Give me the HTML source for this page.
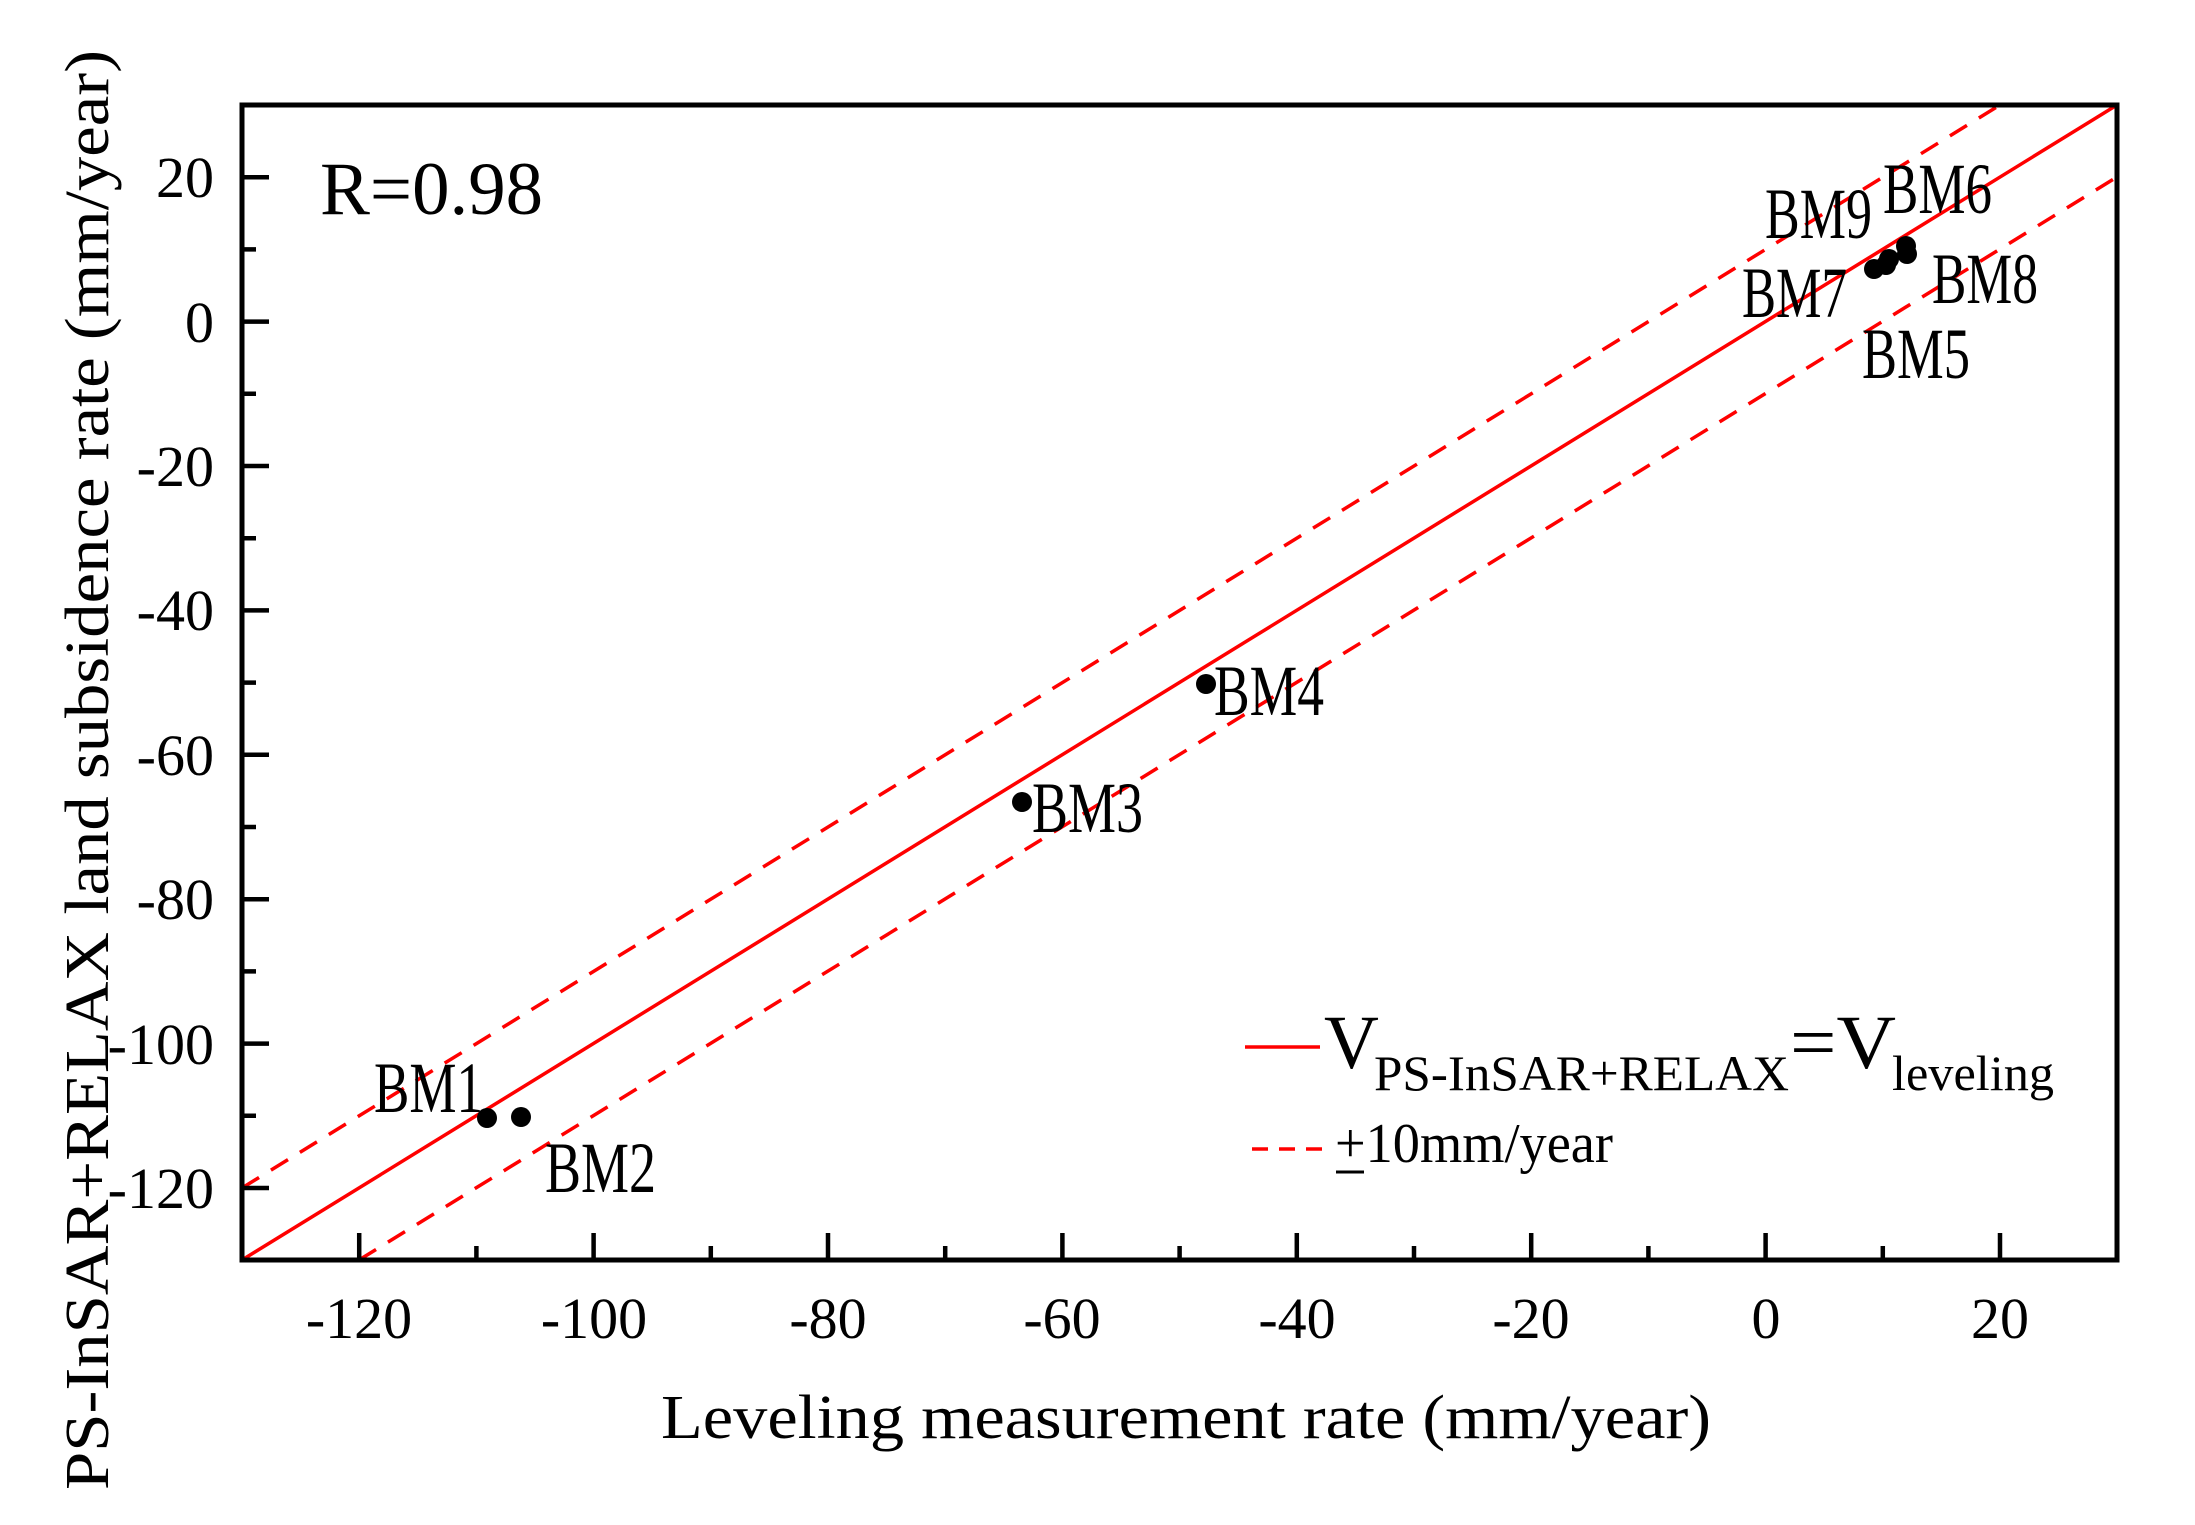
<!DOCTYPE html>
<html><head><meta charset="utf-8"><style>
html,body{margin:0;padding:0;background:#fff;}
svg{display:block;}
text{font-family:"Liberation Serif",serif;fill:#000;}
</style></head><body>
<svg width="2195" height="1525" viewBox="0 0 2195 1525" xmlns="http://www.w3.org/2000/svg">
<rect width="2195" height="1525" fill="#fff"/>
<line x1="242" y1="1260" x2="2117" y2="105" stroke="#f00" stroke-width="3.5"/>
<line x1="242" y1="1188" x2="2000" y2="105" stroke="#f00" stroke-width="3.5" stroke-dasharray="20,14"/>
<line x1="359" y1="1260" x2="2117" y2="177" stroke="#f00" stroke-width="3.5" stroke-dasharray="20,14"/>
<rect x="242" y="105" width="1875" height="1155" fill="none" stroke="#000" stroke-width="5"/>
<g stroke="#000" stroke-width="4.5">
<path d="M359.2 1260v-27M593.6 1260v-27M828 1260v-27M1062.4 1260v-27M1296.8 1260v-27M1531.2 1260v-27M1765.6 1260v-27M2000 1260v-27"/>
<path d="M476.4 1260v-14M710.8 1260v-14M945.2 1260v-14M1179.6 1260v-14M1414 1260v-14M1648.4 1260v-14M1882.8 1260v-14"/>
<path d="M242 177.2h27M242 321.6h27M242 466h27M242 610.4h27M242 754.8h27M242 899.2h27M242 1043.6h27M242 1188h27"/>
<path d="M242 249.4h14M242 393.8h14M242 538.2h14M242 682.6h14M242 827h14M242 971.4h14M242 1115.8h14"/>
</g>
<g font-size="58" text-anchor="middle">
<text x="359" y="1338">-120</text><text x="594" y="1338">-100</text><text x="828" y="1338">-80</text>
<text x="1062" y="1338">-60</text><text x="1297" y="1338">-40</text><text x="1531" y="1338">-20</text>
<text x="1766" y="1338">0</text><text x="2000" y="1338">20</text>
</g>
<g font-size="58" text-anchor="end">
<text x="214" y="197">20</text><text x="214" y="342">0</text><text x="214" y="486">-20</text>
<text x="214" y="630">-40</text><text x="214" y="775">-60</text><text x="214" y="919">-80</text>
<text x="214" y="1064">-100</text><text x="214" y="1208">-120</text>
</g>
<text x="1186" y="1438" font-size="62" text-anchor="middle" textLength="1050" lengthAdjust="spacingAndGlyphs">Leveling measurement rate (mm/year)</text>
<text transform="translate(108,770) rotate(-90)" font-size="62" text-anchor="middle" textLength="1440" lengthAdjust="spacingAndGlyphs">PS-InSAR+RELAX land subsidence rate (mm/year)</text>
<text x="320" y="214" font-size="75" textLength="223" lengthAdjust="spacingAndGlyphs">R=0.98</text>
<g fill="#000">
<circle cx="487" cy="1118" r="10"/><circle cx="521" cy="1117" r="10"/>
<circle cx="1022" cy="802" r="10"/><circle cx="1206" cy="684" r="10"/>
<circle cx="1874" cy="269" r="10"/><circle cx="1886" cy="265" r="10"/>
<circle cx="1889" cy="259" r="10"/><circle cx="1906" cy="246" r="10"/><circle cx="1907" cy="254" r="10"/>
</g>
<g font-size="72">
<text x="374" y="1112" textLength="109" lengthAdjust="spacingAndGlyphs">BM1</text>
<text x="545" y="1192" textLength="111" lengthAdjust="spacingAndGlyphs">BM2</text>
<text x="1032" y="832" textLength="111" lengthAdjust="spacingAndGlyphs">BM3</text>
<text x="1214" y="715" textLength="110" lengthAdjust="spacingAndGlyphs">BM4</text>
<text x="1765" y="238" textLength="107" lengthAdjust="spacingAndGlyphs">BM9</text>
<text x="1883" y="213" textLength="109" lengthAdjust="spacingAndGlyphs">BM6</text>
<text x="1742" y="317" textLength="105" lengthAdjust="spacingAndGlyphs">BM7</text>
<text x="1932" y="303" textLength="106" lengthAdjust="spacingAndGlyphs">BM8</text>
<text x="1862" y="378" textLength="108" lengthAdjust="spacingAndGlyphs">BM5</text>
</g>
<line x1="1245" y1="1047" x2="1320" y2="1047" stroke="#f00" stroke-width="3.5"/>
<text x="1324" y="1068" font-size="76">V</text>
<text x="1374" y="1090" font-size="50" textLength="415" lengthAdjust="spacingAndGlyphs">PS-InSAR+RELAX</text>
<text x="1790" y="1068" font-size="76" textLength="106" lengthAdjust="spacingAndGlyphs">=V</text>
<text x="1892" y="1090" font-size="50" textLength="162" lengthAdjust="spacingAndGlyphs">leveling</text>
<line x1="1252" y1="1149" x2="1325" y2="1149" stroke="#f00" stroke-width="3.5" stroke-dasharray="16,11"/>
<text x="1335" y="1162" font-size="56" textLength="278" lengthAdjust="spacingAndGlyphs">+10mm/year</text>
<line x1="1336" y1="1172" x2="1364" y2="1172" stroke="#000" stroke-width="3"/>
</svg>
</body></html>
